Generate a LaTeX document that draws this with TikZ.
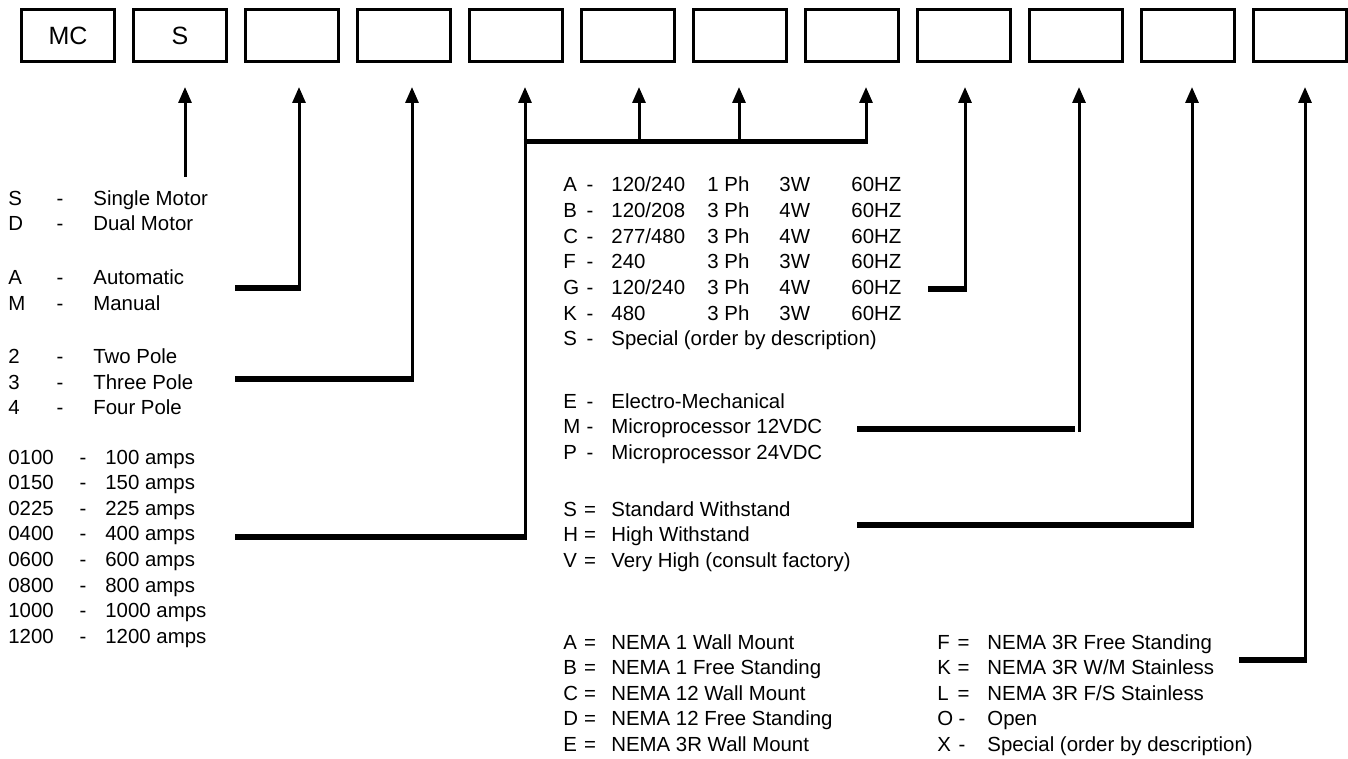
\documentclass[tikz,border=0pt]{standalone}
\usepackage{fontspec}
\setmainfont{Liberation Sans}
\usetikzlibrary{arrows.meta}
\newcommand\lgrow[4]{\node[txt] (#1a) at (8,#2) {#3}; \node[sym] (#1b) at (60,#2) {-}; \node[txt] (#1c) at (93,#2) {#4};}
\newcommand\amprow[4]{\node[txt] (#1a) at (8,#2) {#3}; \node[sym] (#1b) at (83,#2) {-}; \node[txt] (#1c) at (105,#2) {#4 amps};}
\newcommand\vltrow[6]{\node[txt] (#1a) at (563,#2) {#3}; \node[sym] (#1b) at (590,#2) {-}; \node[txt] (#1c) at (611,#2) {#4}; \node[txt] (#1d) at (707,#2) {#5}; \node[txt] (#1e) at (779,#2) {#6}; \node[txt] (#1f) at (851,#2) {60HZ};}
\newcommand\eqrow[8]{\node[txt] (#1a) at (#3,#2) {#6}; \node[sym] (#1b) at (#4,#2) {#7}; \node[txt] (#1c) at (#5,#2) {#8};}
\begin{document}
\begin{tikzpicture}[x=0.5pt,y=-0.5pt,
  box/.style={draw,line width=1.5pt,minimum width=46.5pt,minimum height=26pt,inner sep=0pt,font=\fontsize{12.5pt}{14pt}\selectfont},
  txt/.style={anchor=base west,inner sep=0pt,font=\fontsize{10.2pt}{12pt}\selectfont},
  sym/.style={anchor=base,inner sep=0pt,font=\fontsize{10.2pt}{12pt}\selectfont},
  arr/.style={line width=1.5pt,-{Triangle[length=8pt,width=6.5pt]}},
  heavy/.style={line width=2.75pt}]
\useasboundingbox (0,0) rectangle (1348,759);
% code boxes
\node[box] (b1) at (68,35.5) {MC};
\node[box] (b2) at (180,35.5) {S};
\foreach \i in {3,...,12} \node[box] (b\i) at ({68+112*(\i-1)},35.5) {};
% arrow tips
\foreach \n/\x in {2/185,3/299,4/412,5/525,6/639,7/739,8/866,9/965,10/1079,11/1192,12/1305}
  \coordinate (t\n) at (\x,87);
% left column
\lgrow{s1}{205.5}{S}{Single Motor}
\lgrow{s2}{231}{D}{Dual Motor}
\lgrow{a1}{284.5}{A}{Automatic}
\lgrow{a2}{310}{M}{Manual}
\lgrow{p1}{363.5}{2}{Two Pole}
\lgrow{p2}{389}{3}{Three Pole}
\lgrow{p3}{414.5}{4}{Four Pole}
\amprow{m1}{464}{0100}{100}
\amprow{m2}{489.6}{0150}{150}
\amprow{m3}{515.2}{0225}{225}
\amprow{m4}{540.8}{0400}{400}
\amprow{m5}{566.4}{0600}{600}
\amprow{m6}{592}{0800}{800}
\amprow{m7}{617.6}{1000}{1000}
\amprow{m8}{643.2}{1200}{1200}
% voltage
\vltrow{v1}{192}{A}{120/240}{1 Ph}{3W}
\vltrow{v2}{217.6}{B}{120/208}{3 Ph}{4W}
\vltrow{v3}{243.2}{C}{277/480}{3 Ph}{4W}
\vltrow{v4}{268.8}{F}{240}{3 Ph}{3W}
\vltrow{v5}{294.4}{G}{120/240}{3 Ph}{4W}
\vltrow{v6}{320}{K}{480}{3 Ph}{3W}
\eqrow{v7}{345.6}{563}{590}{611}{S}{-}{Special (order by description)}
% controller
\eqrow{c1}{408}{563}{590}{611}{E}{-}{Electro-Mechanical}
\eqrow{c2}{433.6}{563}{590}{611}{M}{-}{Microprocessor 12VDC}
\eqrow{c3}{459.2}{563}{590}{611}{P}{-}{Microprocessor 24VDC}
% withstand
\eqrow{w1}{516}{563}{590}{611}{S}{=}{Standard Withstand}
\eqrow{w2}{541.6}{563}{590}{611}{H}{=}{High Withstand}
\eqrow{w3}{567.2}{563}{590}{611}{V}{=}{Very High (consult factory)}
% enclosure
\eqrow{e1}{649}{563}{590}{611}{A}{=}{NEMA 1 Wall Mount}
\eqrow{e2}{674.6}{563}{590}{611}{B}{=}{NEMA 1 Free Standing}
\eqrow{e3}{700.2}{563}{590}{611}{C}{=}{NEMA 12 Wall Mount}
\eqrow{e4}{725.8}{563}{590}{611}{D}{=}{NEMA 12 Free Standing}
\eqrow{e5}{751.4}{563}{590}{611}{E}{=}{NEMA 3R Wall Mount}
\eqrow{f1}{649}{937}{963.5}{987}{F}{=}{NEMA 3R Free Standing}
\eqrow{f2}{674.6}{937}{963.5}{987}{K}{=}{NEMA 3R W/M Stainless}
\eqrow{f3}{700.2}{937}{963.5}{987}{L}{=}{NEMA 3R F/S Stainless}
\eqrow{f4}{725.8}{937}{962}{987}{O}{-}{Open}
\eqrow{f5}{751.4}{937}{962}{987}{X}{-}{Special (order by description)}
% connector points
\coordinate (s2) at (185,177);
\coordinate (h3) at (235,288);   \coordinate (k3) at (300.5,288);  \coordinate (u3) at (299,290.7);
\coordinate (h4) at (235,379);   \coordinate (k4) at (413.5,379);  \coordinate (u4) at (412,381.7);
\coordinate (h5) at (235,537);   \coordinate (k5) at (526.5,537);  \coordinate (u5) at (525,539.7);
\coordinate (busL) at (523.5,141.5); \coordinate (busR) at (867.5,141.5);
\coordinate (u6) at (639,141.5); \coordinate (u7) at (739,141.5); \coordinate (u8) at (866,141.5);
\coordinate (h9) at (928,289);   \coordinate (k9) at (966.5,289);  \coordinate (u9) at (965,291.7);
\coordinate (h10) at (857,429);  \coordinate (k10) at (1075,429);  \coordinate (u10) at (1079,431.7);
\coordinate (h11) at (857,525);  \coordinate (k11) at (1193.5,525); \coordinate (u11) at (1192,527.7);
\coordinate (h12) at (1239,660); \coordinate (k12) at (1306.5,660); \coordinate (u12) at (1305,662.7);
% connectors
\draw[arr] (s2) -- (t2);
\foreach \n in {3,4,5,9,10,11,12} {
  \draw[heavy] (h\n) -- (k\n);
  \draw[arr] (u\n) -- (t\n);
}
\draw[heavy] (busL) -- (busR);
\foreach \n in {6,7,8} \draw[arr] (u\n) -- (t\n);
\end{tikzpicture}
\end{document}
